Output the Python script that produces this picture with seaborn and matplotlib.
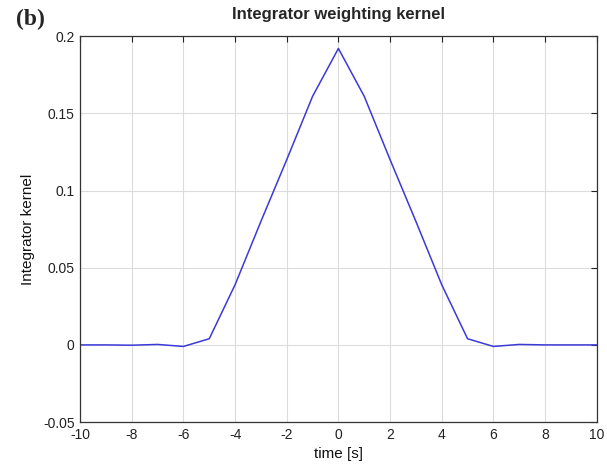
import numpy as np
import pandas as pd
import matplotlib
matplotlib.use("Agg")
import matplotlib.pyplot as plt
import seaborn as sns
from matplotlib.ticker import FuncFormatter

# Kernel samples at integer time steps
time_s = [-10, -9, -8, -7, -6, -5, -4, -3, -2, -1, 0, 1, 2, 3, 4, 5, 6, 7, 8, 9, 10]
kernel = [0.0, 0.0, -0.0002, 0.0003, -0.001, 0.004, 0.039, 0.08, 0.12, 0.161, 0.192,
          0.161, 0.12, 0.08, 0.039, 0.004, -0.001, 0.0003, 0.0, 0.0, 0.0]

x_ticks = [-10, -8, -6, -4, -2, 0, 2, 4, 6, 8, 10]
y_ticks = [-0.05, 0, 0.05, 0.1, 0.15, 0.2]

sns.set_theme(style="white")
plt.rcParams["font.family"] = ["Liberation Sans", "DejaVu Sans"]
plt.rcParams["axes.unicode_minus"] = False

df = pd.DataFrame({"time": time_s, "kernel": kernel})

fig = plt.figure(figsize=(6.07, 4.69), dpi=100)
ax = fig.add_axes([0.132, 0.100, 0.851, 0.823])

sns.lineplot(data=df, x="time", y="kernel", ax=ax, color="#3a3ad8", linewidth=1.1)

ax.set_xlim(-10, 10)
ax.set_ylim(-0.05, 0.2)
ax.set_xticks(x_ticks)
ax.set_yticks(y_ticks)
ax.xaxis.set_major_formatter(FuncFormatter(lambda v, p: f"{v:g}"))
ax.yaxis.set_major_formatter(FuncFormatter(lambda v, p: f"{v:g}"))
ax.grid(True, color="#dcdcdc", linewidth=0.8)
ax.tick_params(direction="in", length=4, width=0.8, top=True, right=True,
               labelsize=10, colors="#222222", pad=4)
for s in ax.spines.values():
    s.set_color("#333333")
    s.set_linewidth(0.9)

ax.set_xlabel("time [s]", fontsize=11, color="#111111", labelpad=4)
ax.set_ylabel("Integrator kernel", fontsize=11, color="#111111", labelpad=6)
ax.set_title("Integrator weighting kernel", fontsize=12, fontweight="bold", pad=12)

fig.text(0.026, 0.958, "(b)", fontsize=17, fontweight="bold",
         family=["Liberation Serif", "DejaVu Serif"], va="center", ha="left")

fig.savefig("out.png", dpi=100, facecolor="white")
